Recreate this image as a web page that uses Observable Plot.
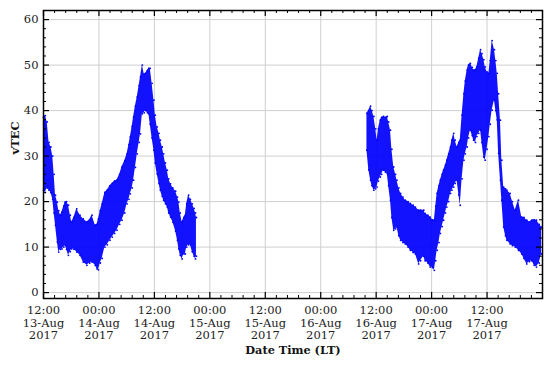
<!DOCTYPE html>
<html>
<head>
<meta charset="utf-8">
<script src="https://cdn.jsdelivr.net/npm/d3@7"></script>
<script src="https://cdn.jsdelivr.net/npm/@observablehq/plot@0.6"></script>
<style>
  html, body { margin: 0; padding: 0; background: #fff; }
  #chart svg { display: block; }
</style>
</head>
<body>
<div id="chart"></div>
<script>
// Hours after 13-Aug-2017 12:00 (LT), with the lower and upper edge of the vTEC point cloud
const seg1Hours = [0.0,0.4,0.8,1.2,1.6,2.0,2.3,2.6,3.0,3.3,3.7,4.0,4.4,4.7,5.0,5.4,5.8,6.1,6.6,7.2,7.9,8.6,9.4,10.0,10.5,11.2,11.6,11.9,12.3,12.7,13.3,13.8,14.4,14.9,15.4,15.9,16.5,17.0,17.6,18.1,18.5,18.8,19.2,19.5,19.9,20.3,20.7,21.0,21.4,21.8,22.1,22.5,22.8,23.1,23.5,23.9,24.2,24.6,25.0,25.3,25.7,26.0,26.4,26.8,27.1,27.5,28.0,28.6,29.0,29.3,29.6,30.0,30.4,30.7,31.0,31.4,31.8,32.2,32.6,32.9,33.1];
const seg1Low   = [22.5,22.0,23.0,22.5,22.0,20.5,17.5,14.8,11.1,8.9,9.5,9.6,10.0,10.4,9.5,8.2,9.0,9.6,9.5,8.9,8.2,6.7,6.0,6.5,6.7,6.0,5.2,5.0,6.5,7.5,10.0,10.5,11.5,12.2,13.0,13.7,15.0,15.9,17.5,19.5,20.5,21.7,23.0,24.7,27.5,30.5,33.0,34.9,39.3,39.5,40.0,39.5,39.3,37.0,34.0,31.3,28.5,26.1,24.0,22.5,21.2,20.3,19.5,18.8,17.5,16.6,15.5,13.5,11.5,9.6,8.2,7.4,8.5,8.5,10.0,10.5,10.5,9.0,8.0,7.4,8.0];
const seg1High  = [38.5,38.9,37.5,33.0,32.0,30.0,26.0,21.4,19.9,18.0,17.0,17.7,19.0,19.9,20.0,19.2,17.0,15.5,16.5,18.4,17.0,16.2,15.5,16.0,17.0,14.8,15.0,16.2,18.0,19.5,22.0,22.5,23.5,24.0,24.5,24.7,26.0,27.6,29.0,30.5,32.5,34.2,36.5,38.6,41.0,43.0,45.5,47.4,50.0,48.0,48.2,48.8,49.3,49.3,46.0,42.3,39.0,36.4,35.0,33.5,32.0,30.5,28.5,26.9,25.0,23.9,23.0,22.3,21.0,19.9,17.5,15.5,16.5,17.0,19.5,21.4,20.5,19.5,18.5,17.5,16.5];

const seg2Hours = [70.0,70.4,70.8,71.1,71.5,71.9,72.2,72.5,72.9,73.2,73.6,74.0,74.4,74.7,75.1,75.4,75.8,76.2,76.5,76.9,77.3,77.8,78.3,78.9,79.4,80.0,80.5,81.2,81.6,82.3,82.6,83.2,83.7,84.2,84.6,84.9,85.2,85.6,85.9,86.3,86.6,87.0,87.3,87.7,88.1,88.4,88.8,89.1,89.5,89.9,90.2,90.6,91.0,91.3,91.7,92.0,92.4,92.8,93.1,93.5,93.8,94.2,94.6,94.9,95.3,95.6,96.0,96.4,96.7,97.1,97.6,97.9,98.2,98.5,98.9,99.2,99.6,100.0,100.3,101.0,101.5,102.1,102.8,103.5,104.0,104.6,105.2,105.7,106.2,106.7,107.3,107.8];
const seg2Low   = [31.3,27.0,24.7,23.5,22.5,22.8,23.2,24.5,25.4,26.0,26.9,26.5,26.2,23.5,20.3,16.5,13.7,14.0,14.4,12.5,11.5,11.0,10.7,10.0,9.3,8.8,8.5,6.3,7.0,8.0,7.0,6.5,5.6,5.5,4.9,7.0,9.3,11.0,13.0,14.5,15.9,17.5,18.8,20.0,21.8,22.5,23.2,24.0,24.7,21.5,19.2,25.0,29.1,30.5,32.0,34.0,35.7,34.5,33.5,33.0,34.3,35.0,35.7,33.0,29.8,29.1,31.5,34.3,37.0,40.1,42.3,40.0,38.0,30.6,24.7,20.3,14.4,12.5,11.5,10.7,10.3,10.0,9.3,8.5,7.5,6.3,6.8,7.0,6.0,5.6,6.5,8.5];
const seg2High  = [39.4,40.0,41.0,40.0,38.7,36.0,33.5,36.0,37.9,38.5,38.7,38.5,38.7,37.5,35.7,31.5,27.6,26.0,24.7,23.0,21.8,21.0,20.3,20.0,19.6,19.2,18.8,18.1,18.1,18.1,17.4,17.0,16.6,16.0,15.9,19.0,21.8,23.5,24.7,26.0,26.9,28.0,29.1,30.5,32.0,33.5,35.0,33.5,32.0,33.0,33.5,39.0,43.7,46.5,48.9,50.0,50.4,49.5,48.9,49.0,49.6,51.5,53.4,52.5,51.2,49.6,48.5,48.2,51.0,55.4,53.4,51.0,48.2,43.7,37.9,29.1,23.2,22.8,22.5,21.8,20.0,18.1,20.3,16.6,16.5,15.9,15.5,15.9,16.0,15.9,15.0,14.4];

// Axis settings
const xStartHours = 0;     // 13-Aug 12:00
const xEndHours = 108;     // 18-Aug 00:00
const xMajorHours = [0, 12, 24, 36, 48, 60, 72, 84, 96];
const xMinorStepHours = 2.4;
const yDomain = [-1.3, 62];
const yMajor = [0, 10, 20, 30, 40, 50, 60];
const yMinorStep = 2;

const t0 = Date.UTC(2017, 7, 13, 12, 0, 0);
const toDate = h => new Date(t0 + h * 3600e3);

const rows = [];
seg1Hours.forEach((h, i) => rows.push({seg: 1, date: toDate(h), low: seg1Low[i], high: seg1High[i]}));
seg2Hours.forEach((h, i) => rows.push({seg: 2, date: toDate(h), low: seg2Low[i], high: seg2High[i]}));

const xMajor = xMajorHours.map(toDate);
const xMinor = d3.range(xStartHours, xEndHours + 0.001, xMinorStepHours)
  .filter(h => !xMajorHours.some(m => Math.abs(m - h) < 1e-6)).map(toDate);
const yMinor = d3.range(0, 62.001, yMinorStep).filter(v => v % 10 !== 0);

const fmt = d3.utcFormat("%H:%M\n%d-%b\n%Y");

const W = 550, H = 365, mL = 43, mR = 8, mT = 10, mB = 67;
const pw = W - mL - mR, ph = H - mT - mB;
const blue = "#0000ff";
const font = "DejaVu Serif";

const chart = Plot.plot({
  width: W, height: H,
  marginLeft: mL, marginRight: mR, marginTop: mT, marginBottom: mB,
  style: {fontFamily: font, fontSize: "11px", background: "#fff", color: "#222"},
  x: {type: "utc", domain: [toDate(xStartHours), toDate(xEndHours)]},
  y: {domain: yDomain},
  marks: [
    Plot.gridX(xMajor, {stroke: "#cfcfcf", strokeOpacity: 1, strokeWidth: 1}),
    Plot.gridY(yMajor, {stroke: "#cfcfcf", strokeOpacity: 1, strokeWidth: 1}),
    Plot.areaY(rows, {x: "date", y1: "low", y2: "high", z: "seg", fill: blue, fillOpacity: 0.93, curve: "linear"}),
    Plot.dot(rows, {x: "date", y: "high", r: 0.9, fill: blue}),
    Plot.dot(rows, {x: "date", y: "low", r: 0.9, fill: blue}),
    // inward ticks on all four sides
    Plot.ruleX(xMajor, {x: d => d, insetTop: ph - 6, stroke: "#000", strokeWidth: 1.2}),
    Plot.ruleX(xMajor, {x: d => d, insetBottom: ph - 6, stroke: "#000", strokeWidth: 1.2}),
    Plot.ruleX(xMinor, {x: d => d, insetTop: ph - 3, stroke: "#000", strokeWidth: 1}),
    Plot.ruleX(xMinor, {x: d => d, insetBottom: ph - 3, stroke: "#000", strokeWidth: 1}),
    Plot.ruleY(yMajor, {y: d => d, insetRight: pw - 6, stroke: "#000", strokeWidth: 1.2}),
    Plot.ruleY(yMajor, {y: d => d, insetLeft: pw - 6, stroke: "#000", strokeWidth: 1.2}),
    Plot.ruleY(yMinor, {y: d => d, insetRight: pw - 3, stroke: "#000", strokeWidth: 1}),
    Plot.ruleY(yMinor, {y: d => d, insetLeft: pw - 3, stroke: "#000", strokeWidth: 1}),
    Plot.frame({stroke: "#000", strokeWidth: 1.5}),
    Plot.axisX(xMajor, {tickSize: 0, tickPadding: 6, tickFormat: fmt, fontSize: 11.5, lineHeight: 1.12, label: null, fill: "#222"}),
    Plot.axisY(yMajor, {tickSize: 0, tickPadding: 5, fontSize: 11.5, label: null, fill: "#222"}),
    Plot.text(["vTEC"], {text: d => d, frameAnchor: "left", dx: -28, rotate: -90, fontWeight: "bold", fontSize: 11.5, fill: "#111"}),
    Plot.text(["Date Time (LT)"], {text: d => d, frameAnchor: "bottom", dy: 55, fontWeight: "bold", fontSize: 11.3, fill: "#111"})
  ]
});
document.getElementById("chart").appendChild(chart);
</script>
</body>
</html>
